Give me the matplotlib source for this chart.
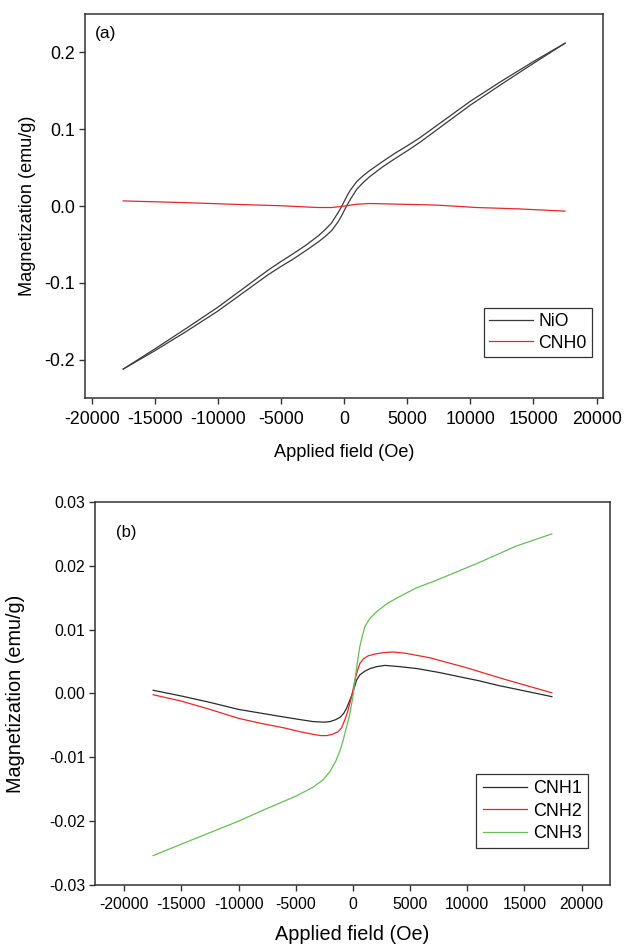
import numpy as np
import matplotlib
matplotlib.use("Agg")
import matplotlib.pyplot as plt
from matplotlib.ticker import FormatStrFormatter

plt.rcParams['font.family'] = ['Liberation Sans', 'DejaVu Sans']
plt.rcParams['axes.unicode_minus'] = False

# panel (a): NiO loop (two branches) and CNH0
field_a = [-17500, -15000, -12500, -10000, -7500, -6000, -5000, -4000, -3000, -2000, -1500, -1000,
           -500, -250, 0, 250, 500, 1000, 1500, 2000, 3000, 4000, 5000, 6000, 7500, 10000,
           12500, 15000, 17500]
nio_up = [-0.212, -0.1858, -0.159, -0.1315, -0.1012, -0.083, -0.072, -0.0615, -0.0505, -0.038,
          -0.0305, -0.022, -0.009, -0.002, 0.006, 0.014, 0.021, 0.032, 0.0395, 0.046, 0.0575,
          0.0685, 0.0785, 0.089, 0.1068, 0.1365, 0.163, 0.1882, 0.212]
nio_down = [-0.212, -0.1882, -0.163, -0.1365, -0.1068, -0.089, -0.0785, -0.0685, -0.0575, -0.046,
            -0.0395, -0.032, -0.021, -0.014, -0.006, 0.002, 0.009, 0.022, 0.0305, 0.038, 0.0505,
            0.0615, 0.072, 0.083, 0.1012, 0.1315, 0.159, 0.1858, 0.212]

field_cnh0 = [-17500, -12500, -8400, -5000, -2100, -1000, 0, 1000, 2000, 4000, 7400, 10500, 13700, 17500]
cnh0 = [0.0068, 0.0045, 0.0022, 0.0005, -0.0018, -0.0018, 0.0, 0.0025, 0.0034, 0.0027, 0.0013,
        -0.0018, -0.0035, -0.0065]

# panel (b): CNH1, CNH2, CNH3
field_cnh1 = [-17470, -15000, -12500, -10000, -8000, -6000, -4600, -3500, -2500, -2000, -1500, -1100,
              -800, -550, -300, -100, 100, 320, 600, 1050, 1500, 2070, 2800, 4100, 5600, 7500,
              9100, 11000, 12600, 15000, 17400]
cnh1 = [0.0005, -0.0004, -0.0014, -0.0025, -0.0031, -0.0037, -0.0041, -0.0044, -0.0045, -0.0044,
        -0.0041, -0.0037, -0.0031, -0.0023, -0.0012, -0.0003, 0.0008, 0.0021, 0.0029, 0.0035,
        0.0039, 0.0042, 0.0044, 0.0042, 0.0039, 0.0033, 0.0027, 0.0020, 0.0013, 0.0004, -0.0005]

field_cnh2 = [-17470, -15000, -12500, -10000, -8000, -6000, -4600, -3500, -2800, -2300, -1800, -1300,
              -1000, -700, -450, -260, 0, 175, 400, 610, 900, 1340, 2000, 2650, 3500, 4600, 6700,
              9800, 13300, 17400]
cnh2 = [-0.0002, -0.0012, -0.0025, -0.0039, -0.0047, -0.0054, -0.0060, -0.0064, -0.0066, -0.0066,
        -0.0064, -0.0060, -0.0054, -0.0041, -0.0028, -0.0015, 0.0005, 0.0021, 0.0036, 0.0047,
        0.0054, 0.0059, 0.0062, 0.0064, 0.0065, 0.0063, 0.0056, 0.0041, 0.0022, 0.0001]

field_cnh3 = [-17470, -15000, -12500, -10000, -7500, -5000, -3500, -2600, -2000, -1500, -1100, -850,
              -600, -400, -260, 0, 175, 400, 610, 850, 1050, 1500, 2070, 3000, 4100, 5500, 7400,
              10900, 14300, 17400]
cnh3 = [-0.0254, -0.0236, -0.0218, -0.0200, -0.0180, -0.0161, -0.0147, -0.0135, -0.0122, -0.0106,
        -0.0088, -0.0073, -0.0055, -0.0042, -0.0031, -0.0005, 0.0021, 0.0050, 0.0074, 0.0092,
        0.0105, 0.0118, 0.0128, 0.0141, 0.0152, 0.0165, 0.0178, 0.0204, 0.0231, 0.0250]

x_ticks = [-20000, -15000, -10000, -5000, 0, 5000, 10000, 15000, 20000]
ya_ticks = [-0.2, -0.1, 0.0, 0.1, 0.2]
yb_ticks = [-0.03, -0.02, -0.01, 0.0, 0.01, 0.02, 0.03]

fig = plt.figure(figsize=(6.24, 9.46), dpi=100)
ax1 = fig.add_axes([0.1362, 0.5790, 0.8306, 0.4062])
ax2 = fig.add_axes([0.1522, 0.0645, 0.8253, 0.4049])

def style_axes(ax, tsize, xpad):
    for s in ax.spines.values():
        s.set_linewidth(1.1)
        s.set_color('#333333')
    ax.tick_params(direction='out', length=4, width=1.0, color='#333333',
                   labelsize=tsize, top=False, right=False, pad=3)
    ax.tick_params(axis='x', pad=xpad)

# (a)
ax1.plot(field_a, nio_up, color='#3a3a3a', lw=0.9, label='NiO')
ax1.plot(field_a, nio_down, color='#3a3a3a', lw=0.9)
ax1.plot(field_cnh0, cnh0, color='#e8262a', lw=0.9, label='CNH0')
ax1.set_xlim(-20530, 20530)
ax1.set_ylim(-0.25, 0.25)
ax1.set_xticks(x_ticks)
ax1.set_yticks(ya_ticks)
ax1.yaxis.set_major_formatter(FormatStrFormatter('%.1f'))
style_axes(ax1, 12.8, 5)
ax1.set_xlabel('Applied field (Oe)', fontsize=13.1, labelpad=12)
ax1.set_ylabel('Magnetization (emu/g)', fontsize=13.1, labelpad=6)
ax1.text(0.02, 0.95, '(a)', transform=ax1.transAxes, fontsize=12.5, va='center')
ax1.legend(loc='upper right', bbox_to_anchor=(0.978, 0.235), borderaxespad=0,
           fontsize=12.7, frameon=True, fancybox=False, edgecolor='#333333',
           handlelength=2.5, handletextpad=0.3, labelspacing=0.25, borderpad=0.3,
           framealpha=1).get_frame().set_linewidth(0.9)

# (b)
ax2.plot(field_cnh1, cnh1, color='#2a2a2a', lw=0.9, label='CNH1')
ax2.plot(field_cnh2, cnh2, color='#e8262a', lw=0.9, label='CNH2')
ax2.plot(field_cnh3, cnh3, color='#66bd56', lw=0.9, label='CNH3')
ax2.set_xlim(-22560, 22480)
ax2.set_ylim(-0.03, 0.03)
ax2.set_xticks(x_ticks)
ax2.set_yticks(yb_ticks)
ax2.yaxis.set_major_formatter(FormatStrFormatter('%.2f'))
style_axes(ax2, 11.3, 5)
ax2.set_xlabel('Applied field (Oe)', fontsize=14.3, labelpad=9)
ax2.set_ylabel('Magnetization (emu/g)', fontsize=14.3, labelpad=17)
ax2.text(0.04, 0.92, '(b)', transform=ax2.transAxes, fontsize=12, va='center')
ax2.legend(loc='upper right', bbox_to_anchor=(0.957, 0.290), borderaxespad=0,
           fontsize=12.9, frameon=True, fancybox=False, edgecolor='#333333',
           handlelength=2.5, handletextpad=0.3, labelspacing=0.3, borderpad=0.35,
           framealpha=1).get_frame().set_linewidth(0.9)

fig.savefig('out.png', dpi=100)
